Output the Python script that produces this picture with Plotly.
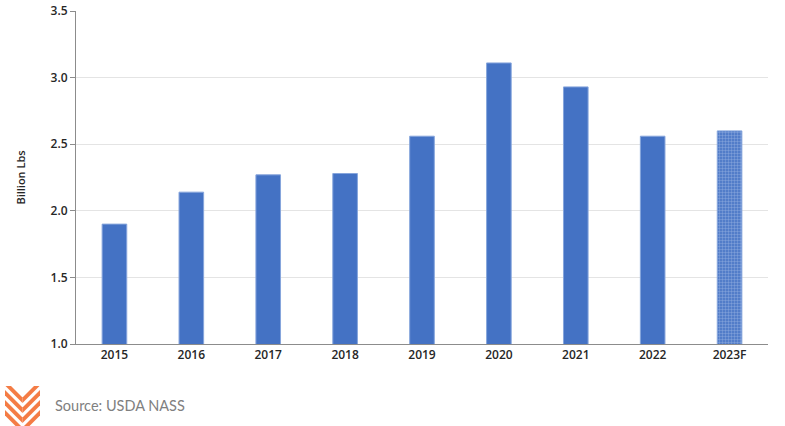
import plotly.graph_objects as go

# US production, billion lbs
years = ["2015", "2016", "2017", "2018", "2019", "2020", "2021", "2022", "2023F"]
billion_lbs = [1.90, 2.14, 2.27, 2.28, 2.56, 3.11, 2.93, 2.56, 2.60]
forecast = [False, False, False, False, False, False, False, False, True]
y_ticks = [1.0, 1.5, 2.0, 2.5, 3.0, 3.5]

BLUE = "#4472C4"
W, H = 785, 426
# plot area in pixels: x 76..768, y 11..344
L, R, T, B = 76, 17, 11, 82


def px(x):
    # pixel x -> paper x
    return (x - L) / (W - L - R)


def py(y):
    # pixel y -> paper y
    return (H - B - y) / (H - T - B)


fig = go.Figure()
fig.add_trace(go.Bar(
    x=years,
    y=billion_lbs,
    marker=dict(
        color=BLUE,
        line=dict(color="#86a5dc", width=1),
        pattern=dict(
            shape=["." if f else "" for f in forecast],
            fgcolor="#b3c7ec",
            bgcolor=BLUE,
            size=3,
            solidity=0.5,
        ),
    ),
    hovertemplate="%{x}: %{y:.2f}<extra></extra>",
))

# little orange chevron logo, bottom left
logo = []
for k in range(4):
    y0 = 380 + k * 10
    # left half, stripe running down to the middle
    logo.append(f"M{px(5)},{py(y0)} L{px(22.5)},{py(y0 + 17.5)} "
                f"L{px(22.5)},{py(y0 + 23)} L{px(5)},{py(y0 + 5.5)} Z")
    # right half, mirrored
    logo.append(f"M{px(40)},{py(y0)} L{px(22.5)},{py(y0 + 17.5)} "
                f"L{px(22.5)},{py(y0 + 23)} L{px(40)},{py(y0 + 5.5)} Z")
shapes = [dict(type="path", path=p, xref="paper", yref="paper",
               fillcolor="#f47c45", line=dict(width=0), layer="above")
          for p in logo]
# mask the stripe ends sticking out above the logo box
shapes.append(dict(type="rect", xref="paper", yref="paper",
                   x0=px(2), x1=px(43), y0=py(386), y1=py(370),
                   fillcolor="white", line=dict(width=0), layer="above"))

fig.update_layout(
    width=W,
    height=H,
    margin=dict(l=L, r=R, t=T, b=B, autoexpand=False),
    paper_bgcolor="white",
    plot_bgcolor="white",
    bargap=0.68,
    showlegend=False,
    font=dict(family="Open Sans, Liberation Sans, sans-serif", color="#262626"),
    shapes=shapes,
    annotations=[dict(
        text="Source: USDA NASS",
        xref="paper", yref="paper",
        x=px(53), y=py(405),
        xanchor="left", yanchor="middle",
        showarrow=False,
        font=dict(family="Lato, Open Sans, sans-serif", size=14.5, color="#808080"),
    )],
)

fig.update_xaxes(
    automargin=False,
    showgrid=False,
    showline=True,
    linecolor="#8c8c8c",
    linewidth=1,
    ticks="",
    tickfont=dict(size=12, weight=600),
)
fig.update_yaxes(
    automargin=False,
    range=[1.0, 3.5],
    tickvals=y_ticks,
    ticktext=[f"{v:.1f}" for v in y_ticks],
    showgrid=True,
    gridcolor="#e4e4e4",
    gridwidth=1,
    showline=True,
    linecolor="#8c8c8c",
    linewidth=1,
    ticks="outside",
    ticklen=5,
    tickcolor="#8c8c8c",
    tickfont=dict(size=12, weight=600),
    title=dict(text="Billion Lbs", font=dict(size=11, weight=600), standoff=22),
    zeroline=False,
)

# drop the default 8px body margin so the figure sits at the page corner
fig.write_html("out.html",
               config={"displayModeBar": False},
               post_script="document.body.style.margin = '0';")
